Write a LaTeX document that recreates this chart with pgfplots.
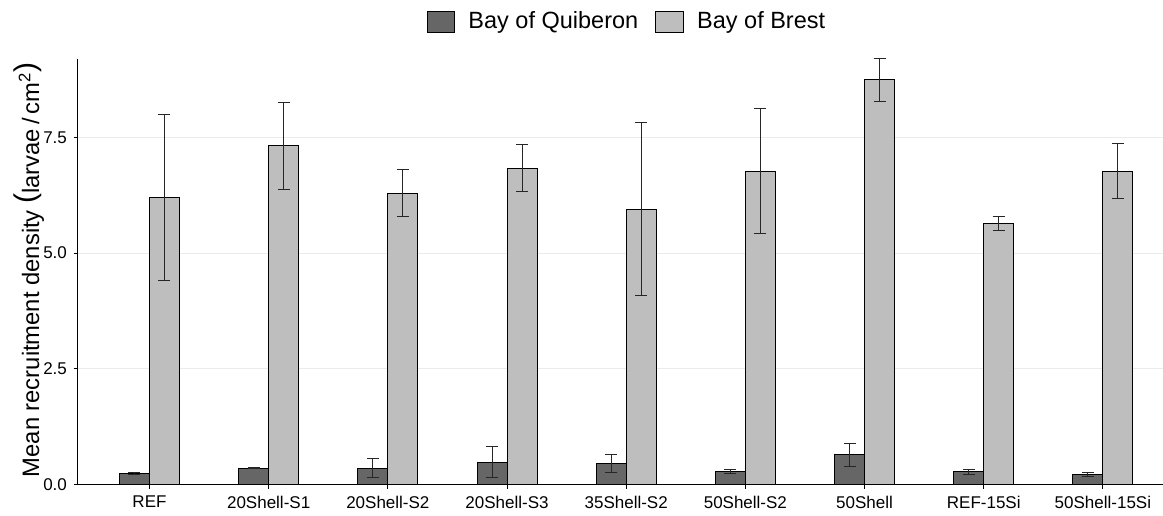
\documentclass[border=0pt]{standalone}
\usepackage{fontspec}
\setmainfont{Liberation Sans}
\usepackage{pgfplots}
\usepackage{pgfplotstable}
\pgfplotsset{compat=1.18}

\definecolor{quib}{HTML}{666666}
\definecolor{brest}{HTML}{BEBEBE}
\definecolor{gridc}{HTML}{EBEBEB}

\newcommand{\bigparen}[1]{\raisebox{2pt}{\fontsize{15}{15}\selectfont #1}}

% dodged positions, mean and half-width of error bar, per treatment
\pgfplotstableread{
xq xb q qe b be
0.8742 1.1258 0.24 0.015 6.20 1.80
1.8742 2.1258 0.36 0.010 7.32 0.94
2.8742 3.1258 0.36 0.21 6.29 0.51
3.8742 4.1258 0.49 0.33 6.83 0.51
4.8742 5.1258 0.46 0.20 5.95 1.86
5.8742 6.1258 0.29 0.05 6.77 1.35
6.8742 7.1258 0.65 0.25 8.74 0.46
7.8742 8.1258 0.28 0.06 5.64 0.15
8.8742 9.1258 0.22 0.05 6.77 0.59
}\recruit

\begin{document}
\begin{tikzpicture}
\begin{axis}[
  name=ax,
  scale only axis,
  width=542.5pt, height=213pt,
  xmin=0.4, xmax=9.5,
  ymin=0, ymax=9.19,
  axis x line*=bottom, axis y line*=left,
  axis line style={-, black, line width=0.5pt},
  xtick={1,...,9},
  xticklabels={REF,20Shell-S1,20Shell-S2,20Shell-S3,35Shell-S2,50Shell-S2,50Shell,REF-15Si,50Shell-15Si},
  ytick={0,2.5,5,7.5},
  yticklabel style={/pgf/number format/.cd, fixed, fixed zerofill, precision=1, assume math mode=true},
  tick label style={font=\fontsize{8.5}{10}\selectfont, black},
  tick align=outside,
  major tick length=2pt,
  tick style={black, line width=0.5pt},
  ymajorgrids,
  major grid style={gridc, line width=0.5pt},
  every axis y label/.style={at={(axis description cs:-0.0455,0.505)}, rotate=90, anchor=center, inner sep=0pt},
  ylabel={\fontsize{11.9}{14}\selectfont Mean recruitment density \bigparen{(}larvae\,/\,cm\textsuperscript{2}\bigparen{)}},
  legend columns=2,
  legend style={draw=none, fill=none, at={(rel axis cs:0.507,1.087)}, anchor=center,
    font=\fontsize{11.75}{13}\selectfont,
    /tikz/every odd column/.append style={column sep=4.5pt},
    /tikz/every even column/.append style={column sep=6.5pt}},
  legend image code/.code={\draw[#1, line width=0.5pt] (0pt,-5.25pt) rectangle (14pt,5.25pt);},
  error bars/y dir=both, error bars/y explicit,
  error bars/error bar style={line width=0.5pt, black!85},
  error bars/error mark options={rotate=90, mark size=3pt, line width=0.5pt, black!85},
]
\addplot[ybar, bar width=0.2516, bar shift=0pt, fill=quib, draw=black, line width=0.5pt]
  table[x=xq, y=q, y error=qe] {\recruit};
\addplot[ybar, bar width=0.2516, bar shift=0pt, fill=brest, draw=black, line width=0.5pt]
  table[x=xb, y=b, y error=be] {\recruit};
\legend{Bay of Quiberon, Bay of Brest}
\end{axis}
\path[use as bounding box] ([shift={(-39pt,-13.35pt)}]ax.south west) rectangle ([shift={(0pt,29.5pt)}]ax.north east);
\end{tikzpicture}
\end{document}
